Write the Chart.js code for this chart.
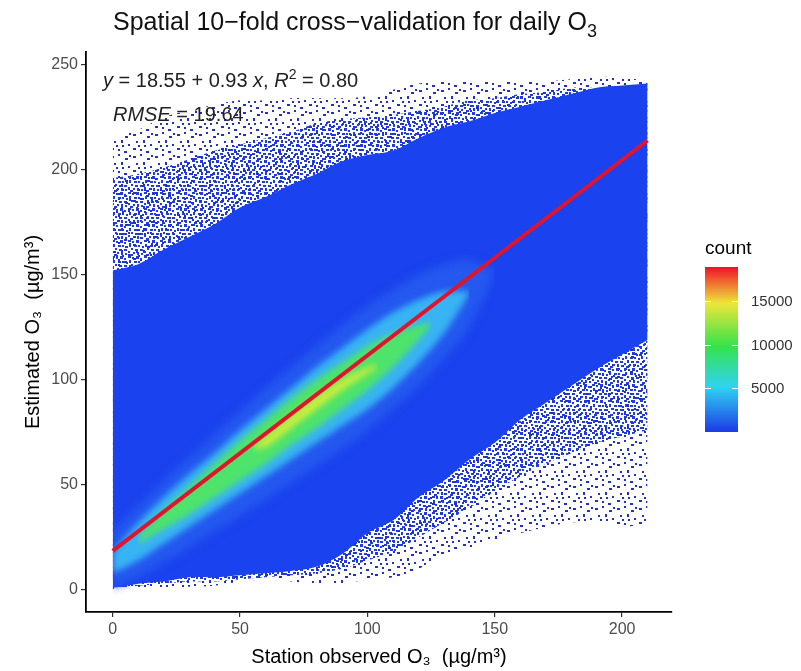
<!DOCTYPE html>
<html>
<head>
<meta charset="utf-8">
<script src="https://cdn.jsdelivr.net/npm/chart.js@4.4.1/dist/chart.umd.min.js"></script>
<style>
  html, body { margin: 0; padding: 0; background: #fff; }
</style>
</head>
<body>
<canvas id="o3Chart" width="801" height="671"></canvas>
<script>
// observed O3 bins (ug/m3) and the edges of the point cloud
const xBins = [0,10,20,30,40,50,60,70,80,90,100,110,120,130,140,150,160,170,180,190,200,210];
const sparseTop     = [215,219,225,228,231,233,233,234,234,234,235,238,241,242,242,242,242,242,243,244,244,242];
const speckleTop    = [196,198,201,205,209,212,215,218,222,224,225,226,228,230,233,234,236,237,239,239,239,240];
const solidTop      = [152,155,162,168,174,182,187,193,198,204,207,209,215,220,223,227,230,233,236,239,240,241];
const solidBottom   = [1,3,4,6,6,7,8,9,11,17,27,33,44,52,62,70,81,89,97,105,112,119];
const speckleBottom = [0.5,2,3,4,4,5,6,7,8,10,14,18,25,32,39,47,54,60,65,70,73,76];
const sparseBottom  = [0.5,1,1,1.5,2,4,5,4,3,3,5,6,10,17,20,24,27,30,32,33,30,32];

// density bands around the fit
const haloX  = [0,10,20,30,40,50,60,70,80,90,100,110,120,130,140,150];
const haloHi = [28,40,52,63,74,85,96,106,116,126,135,143,150,155,157,152];
const haloLo = [1,6,13,20,28,35,43,51,59,67,76,86,97,110,125,150];

const cyanX  = [0,10,20,30,40,50,60,70,80,90,100,110,120,130,140];
const cyanHi = [18,32,44,55,65,76,86,96,106,115,124,132,138,142,142];
const cyanLo = [8,14,22,30,38,46,54,62,70,78,86,96,108,122,141];

const greenX  = [10,20,30,40,50,60,70,80,90,100,110,120,125];
const greenHi = [25,38,49,60,71,81,91,100,108,116,122,126,127];
const greenLo = [22,29,36,44,52,60,69,77,86,95,106,119,126];

const yellowX  = [55,60,70,80,90,100,104];
const yellowHi = [68,73,83,92,100,106,107];
const yellowLo = [67,68,77,86,95,103,106];

// fitted line ends
const fitX = [0, 210];
const fitY = [18.6, 213.9];

// axes and colour bar
const xTicks = [0, 50, 100, 150, 200];
const yTicks = [0, 50, 100, 150, 200, 250];
const countTicks = [5000, 10000, 15000];
const countLimits = [1, 18900];

const FONT = "'Liberation Sans', Arial, 'DejaVu Sans', sans-serif";
const BLUE = '#1a42ee';

function speckle(color, size, dots) {
  const c = document.createElement('canvas');
  c.width = size; c.height = size;
  const g = c.getContext('2d');
  g.fillStyle = color;
  dots.forEach(d => g.fillRect(d[0], d[1], d[2] || 2, d[3] || 2));
  return g.createPattern(c, 'repeat');
}
const sparseFill = speckle('#2330c8', 22, [
  [1,2,3,2],[8,0],[15,4,3,2],[4,9],[11,8,2,3],[18,12],[1,16,3,2],[8,17],[14,19,3,2],[12,13],[19,1],[6,13]
]);
const denseFill = speckle('#1f3ce0', 16, [
  [0,0,3,2],[4,1],[8,0,3,3],[12,2],[1,4,2,3],[6,5,3,2],[10,5],[14,6],[3,8],[7,9,3,2],[12,9,3,2],
  [0,11],[5,12],[9,12,2,3],[13,13],[2,14,3,2]
]);

function pts(xs, ys) { return xs.map((x, i) => ({x: x, y: ys[i]})); }

function band(name, xs, hi, lo, fillStyle, order, blur) {
  const common = { borderColor: 'rgba(0,0,0,0)', borderWidth: 0, pointRadius: 0, tension: 0.3, order: order };
  return [
    Object.assign({ label: name + ' hi', data: pts(xs, hi), fill: '+1', backgroundColor: fillStyle, blur: blur || 0 }, common),
    Object.assign({ label: name + ' lo', data: pts(xs, lo), fill: false }, common)
  ];
}

const datasets = [
  { label: 'fit', data: pts(fitX, fitY), borderColor: '#e0142c', borderWidth: 4, pointRadius: 0, fill: false, order: 0 }
].concat(
  band('yellow', yellowX, yellowHi, yellowLo, '#cdee3a', 1, 3),
  band('green', greenX, greenHi, greenLo, '#4ee36a', 2, 3),
  band('cyan', cyanX, cyanHi, cyanLo, '#38b3f3', 3, 3),
  band('halo', haloX, haloHi, haloLo, '#2458ef', 4, 4),
  band('solid', xBins, solidTop, solidBottom, BLUE, 5),
  band('speckle', xBins, speckleTop, speckleBottom, denseFill, 6),
  band('sparse', xBins, sparseTop, sparseBottom, sparseFill, 7)
);

// soft edges for the density bands: must run before the filler draws each fill
const softEdges = {
  id: 'softEdges',
  beforeDatasetDraw(chart, args) {
    const b = chart.data.datasets[args.index].blur;
    if (!b) return;
    const ctx = chart.ctx;
    const xs = chart.scales.x;
    ctx.save();
    ctx.beginPath();
    const left = xs.getPixelForValue(xBins[0]);
    const right = xs.getPixelForValue(xBins[xBins.length - 1]);
    ctx.rect(left, chart.chartArea.top, right - left, chart.chartArea.bottom - chart.chartArea.top);
    ctx.clip();
    ctx.filter = 'blur(' + b + 'px)';
  },
  afterDatasetDraw(chart, args) {
    if (chart.data.datasets[args.index].blur) chart.ctx.restore();
  }
};
Chart.register(softEdges);
Chart.unregister(Chart.Filler);
Chart.register(Chart.Filler);

function drawRich(ctx, x, y, parts, size, color) {
  let cx = x;
  ctx.fillStyle = color;
  ctx.textBaseline = 'alphabetic';
  ctx.textAlign = 'left';
  parts.forEach(p => {
    const s = (p.sub || p.sup) ? Math.round(size * 0.7) : size;
    ctx.font = (p.it ? 'italic ' : '') + s + 'px ' + FONT;
    const dy = p.sub ? size * 0.28 : (p.sup ? -size * 0.42 : 0);
    ctx.fillText(p.t, cx, y + dy);
    cx += ctx.measureText(p.t).width;
  });
}

const textPlugin = {
  id: 'texts',
  afterDraw(chart) {
    const ctx = chart.ctx;
    ctx.save();
    drawRich(ctx, 113, 30, [{t: 'Spatial 10\u2212fold cross\u2212validation for daily O'}, {t: '3', sub: true}], 25, '#111');
    drawRich(ctx, 103, 87, [
      {t: 'y', it: true}, {t: ' = 18.55 + 0.93 '}, {t: 'x', it: true}, {t: ', '},
      {t: 'R', it: true}, {t: '2', sup: true}, {t: ' = 0.80'}
    ], 20, '#222');
    drawRich(ctx, 113, 121, [{t: 'RMSE', it: true}, {t: ' = 19.64'}], 20, '#222');
    ctx.restore();
  }
};

const colorbarPlugin = {
  id: 'colorbar',
  afterDraw(chart) {
    const ctx = chart.ctx;
    const x0 = 705, w = 33, top = 267, bottom = 432;
    ctx.save();
    const grad = ctx.createLinearGradient(0, bottom, 0, top);
    grad.addColorStop(0, '#1c3ae6');
    grad.addColorStop(0.27, '#2fd2f2');
    grad.addColorStop(0.52, '#35e34a');
    grad.addColorStop(0.78, '#eee63a');
    grad.addColorStop(1, '#f0102a');
    ctx.fillStyle = grad;
    ctx.fillRect(x0, top, w, bottom - top);
    const toY = v => bottom - (v - countLimits[0]) / (countLimits[1] - countLimits[0]) * (bottom - top);
    ctx.strokeStyle = '#fff';
    ctx.lineWidth = 1;
    ctx.font = '15px ' + FONT;
    ctx.textAlign = 'left';
    ctx.textBaseline = 'middle';
    countTicks.forEach(v => {
      const y = Math.round(toY(v)) + 0.5;
      ctx.beginPath();
      ctx.moveTo(x0, y); ctx.lineTo(x0 + 6, y);
      ctx.moveTo(x0 + w - 6, y); ctx.lineTo(x0 + w, y);
      ctx.stroke();
      ctx.fillStyle = '#333';
      ctx.fillText(String(v), x0 + w + 13, y);
    });
    ctx.fillStyle = '#000';
    ctx.font = '19px ' + FONT;
    ctx.fillText('count', x0, 249);
    ctx.restore();
  }
};

new Chart(document.getElementById('o3Chart'), {
  type: 'line',
  data: { datasets: datasets },
  plugins: [textPlugin, colorbarPlugin],
  options: {
    responsive: false,
    animation: false,
    devicePixelRatio: 1,
    layout: { padding: { top: 52, right: 129, left: 0, bottom: 0 } },
    plugins: {
      legend: { display: false },
      tooltip: { enabled: false },
      title: { display: false },
      filler: { drawTime: 'beforeDatasetDraw' }
    },
    scales: {
      x: {
        type: 'linear',
        min: -10.5,
        max: 219.6,
        afterBuildTicks: s => { s.ticks = xTicks.map(v => ({value: v})); },
        afterFit: s => { s.height = 59; },
        ticks: { font: { size: 16, family: FONT }, color: '#4d4d4d', padding: 3, maxRotation: 0 },
        grid: { drawOnChartArea: false, drawTicks: true, tickLength: 5, color: '#333', lineWidth: 1.2 },
        border: { display: true, color: '#000', width: 1.8 },
        title: { display: true, text: 'Station observed O\u2083  (\u00b5g/m\u00b3)', color: '#000',
                 font: { size: 20, family: FONT }, padding: { top: 0, bottom: 2 } }
      },
      y: {
        type: 'linear',
        min: -10.5,
        max: 256,
        afterBuildTicks: s => { s.ticks = yTicks.map(v => ({value: v})); },
        afterFit: s => { s.width = 86; },
        ticks: { font: { size: 16, family: FONT }, color: '#4d4d4d', padding: 3 },
        grid: { drawOnChartArea: false, drawTicks: true, tickLength: 5, color: '#333', lineWidth: 1.2 },
        border: { display: true, color: '#000', width: 1.8 },
        title: { display: true, text: 'Estimated O\u2083  (\u00b5g/m\u00b3)', color: '#000',
                 font: { size: 20, family: FONT }, padding: { top: 21, bottom: 0 } }
      }
    }
  }
});
</script>
</body>
</html>
